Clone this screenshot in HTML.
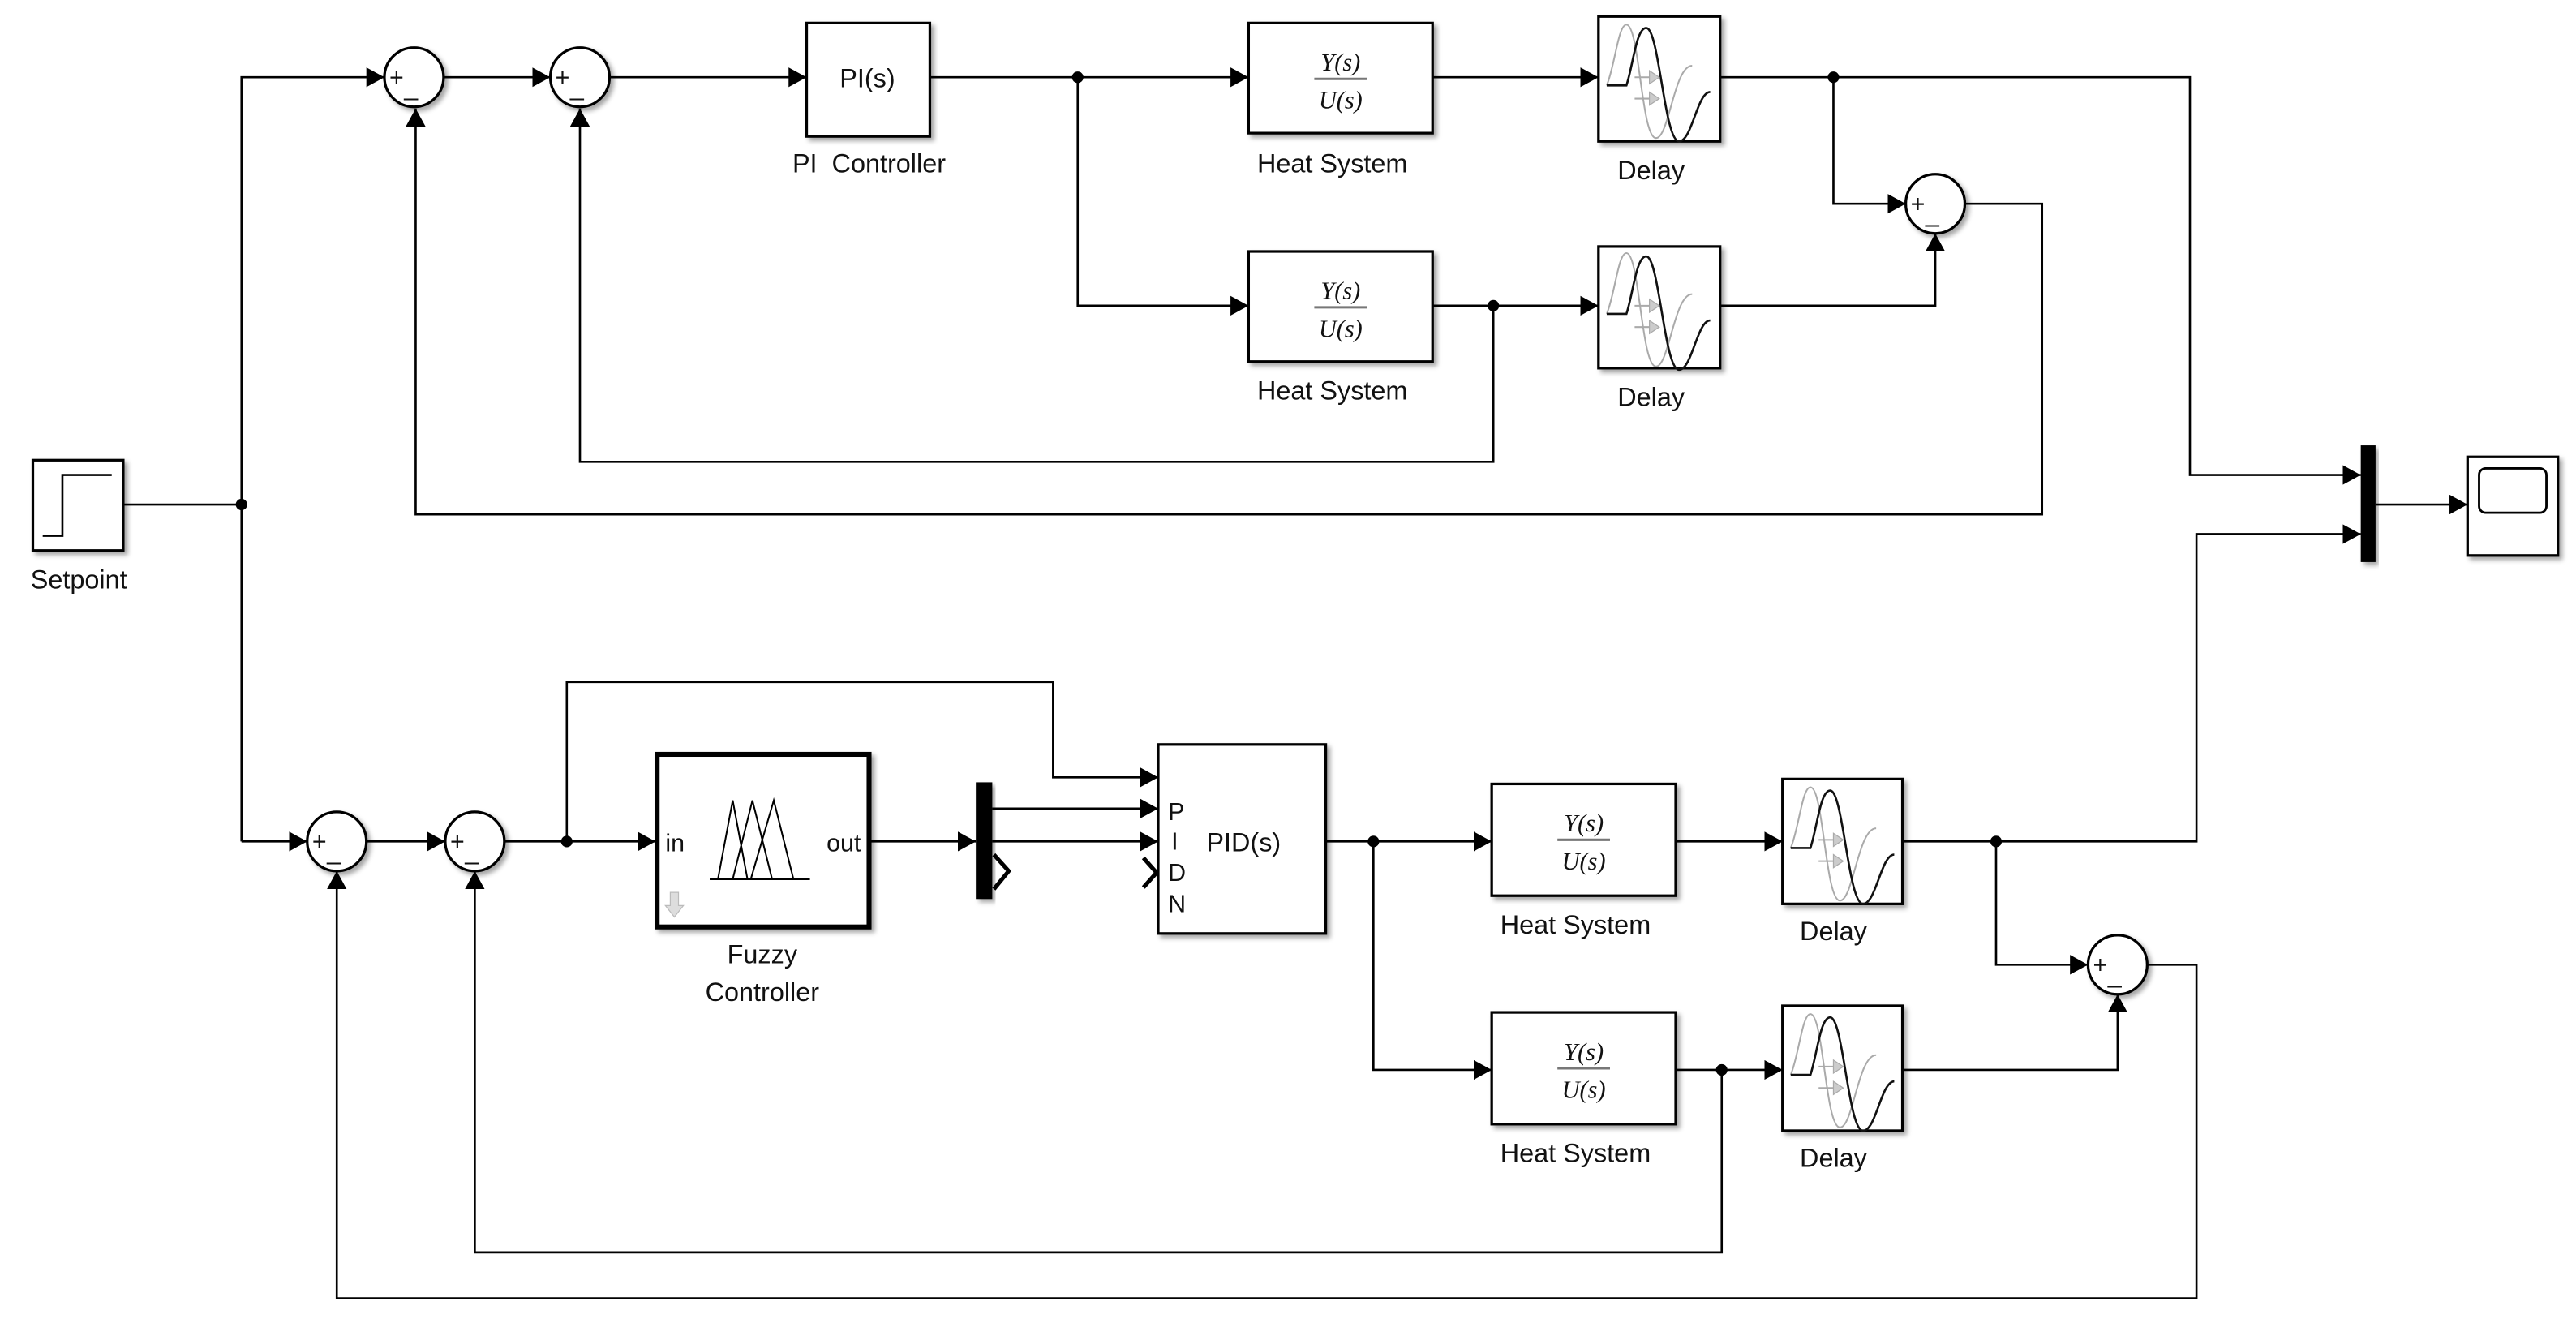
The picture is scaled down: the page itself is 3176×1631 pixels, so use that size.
<!DOCTYPE html>
<html><head><meta charset="utf-8"><style>
html,body{margin:0;padding:0;background:#fff;}
svg{display:block;}
text{font-family:"Liberation Sans",sans-serif;fill:#111;}
.ln{fill:none;stroke:#000;stroke-width:1.3;}
.blk{fill:#fff;stroke:#000;stroke-width:1.6;filter:url(#sh);}
.lbl{font-size:16px;text-anchor:middle;}
.tf{font-family:"Liberation Serif",serif;font-style:italic;font-size:15px;text-anchor:middle;}
.pm{font-size:15px;}
</style></head><body>
<svg width="3176" height="1631" viewBox="0 0 1568 805" preserveAspectRatio="none" xmlns="http://www.w3.org/2000/svg">
<defs>
<filter id="sh" x="-10%" y="-10%" width="130%" height="130%"><feDropShadow dx="2" dy="2" stdDeviation="1.5" flood-color="#000" flood-opacity="0.35"/></filter>
<marker id="a" markerUnits="userSpaceOnUse" markerWidth="11" markerHeight="12" refX="11" refY="6" orient="auto"><path d="M0,0 L11,6 L0,12 z" fill="#000"/></marker>
<g id="dly">
<path d="M5,42 C10,30 12,5 17,5 C25,5 26,74 35,74 C43,74 46,30 57,30" fill="none" stroke="#aaa" stroke-width="1"/>
<path d="M5,42 L17,42 C21,30 23,7 29,7 C37,7 40,76 49,76 C57,76 60,46 68,46" fill="none" stroke="#111" stroke-width="1.3"/>
<path d="M22,37 L34,37 M22,50 L34,50" stroke="#aaa" stroke-width="1"/>
<path d="M31,33 L37,37 L31,41z M31,46 L37,50 L31,54z" fill="#ccc" stroke="#aaa" stroke-width="0.6"/>
</g>
</defs>
<rect width="1568" height="805" fill="#fff"/>

<!-- Setpoint -->
<rect class="blk" x="20" y="280" width="55" height="55"/>
<path d="M26,326 L38,326 L38,289 L68,289" fill="none" stroke="#000" stroke-width="1.3"/>
<text class="lbl" x="48" y="358">Setpoint</text>

<!-- wires top -->
<path class="ln" d="M75,307 L147,307"/>
<circle cx="147" cy="307" r="3.5"/>
<path class="ln" d="M147,512 L147,47 L234,47" marker-end="url(#a)"/>
<path class="ln" d="M270,47 L335,47" marker-end="url(#a)"/>
<path class="ln" d="M371,47 L491,47" marker-end="url(#a)"/>
<path class="ln" d="M566,47 L760,47" marker-end="url(#a)"/>
<circle cx="656" cy="47" r="3.5"/>
<path class="ln" d="M656,47 L656,186 L760,186" marker-end="url(#a)"/>
<path class="ln" d="M872,47 L973,47" marker-end="url(#a)"/>
<path class="ln" d="M872,186 L973,186" marker-end="url(#a)"/>
<circle cx="909" cy="186" r="3.5"/>
<path class="ln" d="M909,186 L909,281 L353,281 L353,66" marker-end="url(#a)"/>
<path class="ln" d="M1047,47 L1333,47 L1333,289 L1437,289" marker-end="url(#a)"/>
<circle cx="1116" cy="47" r="3.5"/>
<path class="ln" d="M1116,47 L1116,124 L1160,124" marker-end="url(#a)"/>
<path class="ln" d="M1047,186 L1178,186 L1178,142" marker-end="url(#a)"/>
<path class="ln" d="M1196,124 L1243,124 L1243,313 L253,313 L253,66" marker-end="url(#a)"/>
<path class="ln" d="M1446,307 L1502,307" marker-end="url(#a)"/>
<path class="ln" d="M1215,512 L1337,512 L1337,325 L1437,325" marker-end="url(#a)"/>

<!-- sums top -->
<g><circle class="blk" cx="252" cy="47" r="18"/><text class="pm" x="237" y="52">+</text><text class="pm" x="246" y="58">_</text></g>
<g><circle class="blk" cx="353" cy="47" r="18"/><text class="pm" x="338" y="52">+</text><text class="pm" x="347" y="58">_</text></g>
<g><circle class="blk" cx="1178" cy="124" r="18"/><text class="pm" x="1163" y="129">+</text><text class="pm" x="1172" y="135">_</text></g>

<!-- PI -->
<rect class="blk" x="491" y="14" width="75" height="69"/>
<text x="528" y="53" font-size="16" text-anchor="middle">PI(s)</text>
<text class="lbl" x="529" y="105">PI&#160; Controller</text>

<!-- Heat systems top -->
<rect class="blk" x="760" y="14" width="112" height="67"/>
<text class="tf" x="816" y="43">Y(s)</text><path d="M800,48 L832,48" stroke="#777" stroke-width="1.5"/><text class="tf" x="816" y="66">U(s)</text>
<text class="lbl" x="811" y="105">Heat System</text>
<rect class="blk" x="760" y="153" width="112" height="67"/>
<text class="tf" x="816" y="182">Y(s)</text><path d="M800,187 L832,187" stroke="#777" stroke-width="1.5"/><text class="tf" x="816" y="205">U(s)</text>
<text class="lbl" x="811" y="243">Heat System</text>

<!-- Delays top -->
<rect class="blk" x="973" y="10" width="74" height="76"/><use href="#dly" x="973" y="10"/>
<text class="lbl" x="1005" y="109">Delay</text>
<rect class="blk" x="973" y="150" width="74" height="74"/><use href="#dly" x="973" y="149"/>
<text class="lbl" x="1005" y="247">Delay</text>

<!-- mux + scope -->
<rect x="1437" y="271" width="9" height="71" fill="#000" filter="url(#sh)"/>
<rect class="blk" x="1502" y="278" width="55" height="60"/>
<rect x="1509" y="285" width="41" height="27" rx="4" fill="none" stroke="#000" stroke-width="1.4"/>

<!-- wires bottom -->
<path class="ln" d="M147,512 L187,512" marker-end="url(#a)"/>
<path class="ln" d="M223,512 L271,512" marker-end="url(#a)"/>
<path class="ln" d="M307,512 L399,512" marker-end="url(#a)"/>
<circle cx="345" cy="512" r="3.5"/>
<path class="ln" d="M345,512 L345,415 L641,415 L641,473 L705,473" marker-end="url(#a)"/>
<path class="ln" d="M530,512 L594,512" marker-end="url(#a)"/>
<path class="ln" d="M604,492 L705,492" marker-end="url(#a)"/>
<path class="ln" d="M604,512 L705,512" marker-end="url(#a)"/>
<path d="M605,520 L614,530 L605,541" fill="none" stroke="#000" stroke-width="2.5"/>
<path d="M696,522 L704,531 L696,540" fill="none" stroke="#000" stroke-width="2.5"/>
<path class="ln" d="M807,512 L908,512" marker-end="url(#a)"/>
<circle cx="836" cy="512" r="3.5"/>
<path class="ln" d="M836,512 L836,651 L908,651" marker-end="url(#a)"/>
<path class="ln" d="M1020,512 L1085,512" marker-end="url(#a)"/>
<path class="ln" d="M1020,651 L1085,651" marker-end="url(#a)"/>
<circle cx="1048" cy="651" r="3.5"/>
<path class="ln" d="M1048,651 L1048,762 L289,762 L289,530" marker-end="url(#a)"/>
<path class="ln" d="M1158,512 L1215,512"/>
<circle cx="1215" cy="512" r="3.5"/>
<path class="ln" d="M1215,512 L1215,587 L1271,587" marker-end="url(#a)"/>
<path class="ln" d="M1158,651 L1289,651 L1289,605" marker-end="url(#a)"/>
<path class="ln" d="M1307,587 L1337,587 L1337,790 L205,790 L205,530" marker-end="url(#a)"/>

<!-- sums bottom -->
<g><circle class="blk" cx="205" cy="512" r="18"/><text class="pm" x="190" y="517">+</text><text class="pm" x="199" y="523">_</text></g>
<g><circle class="blk" cx="289" cy="512" r="18"/><text class="pm" x="274" y="517">+</text><text class="pm" x="283" y="523">_</text></g>
<g><circle class="blk" cx="1289" cy="587" r="18"/><text class="pm" x="1274" y="592">+</text><text class="pm" x="1283" y="598">_</text></g>

<!-- Fuzzy -->
<rect x="400" y="459" width="129" height="105" fill="#fff" stroke="#000" stroke-width="3" filter="url(#sh)"/>
<text x="405" y="518" font-size="15">in</text>
<text x="524" y="518" font-size="15" text-anchor="end">out</text>
<path d="M432,535 L493,535 M437,535 L446,487 L455,535 M446,535 L458,487 L470,535 M457,535 L471,487 L483,535" fill="none" stroke="#000" stroke-width="1"/>
<path d="M408,543 L413,543 L413,551 L416,551 L410.5,558 L405,551 L408,551z" fill="#ddd" stroke="#bbb" stroke-width="0.6"/>
<text class="lbl" x="464" y="586">Fuzzy</text>
<text class="lbl" x="464" y="609">Controller</text>

<!-- demux -->
<rect x="594" y="476" width="10" height="71" fill="#000" filter="url(#sh)"/>

<!-- PID -->
<rect class="blk" x="705" y="453" width="102" height="115"/>
<text x="711" y="499" font-size="15">P</text>
<text x="713" y="517" font-size="15">I</text>
<text x="711" y="536" font-size="15">D</text>
<text x="711" y="555" font-size="15">N</text>
<text x="757" y="518" font-size="16" text-anchor="middle">PID(s)</text>

<!-- Heat systems bottom -->
<rect class="blk" x="908" y="477" width="112" height="68"/>
<text class="tf" x="964" y="506">Y(s)</text><path d="M948,511 L980,511" stroke="#777" stroke-width="1.5"/><text class="tf" x="964" y="529">U(s)</text>
<text class="lbl" x="959" y="568">Heat System</text>
<rect class="blk" x="908" y="616" width="112" height="68"/>
<text class="tf" x="964" y="645">Y(s)</text><path d="M948,650 L980,650" stroke="#777" stroke-width="1.5"/><text class="tf" x="964" y="668">U(s)</text>
<text class="lbl" x="959" y="707">Heat System</text>

<!-- Delays bottom -->
<rect class="blk" x="1085" y="474" width="73" height="76"/><use href="#dly" x="1085" y="474"/>
<text class="lbl" x="1116" y="572">Delay</text>
<rect class="blk" x="1085" y="612" width="73" height="76"/><use href="#dly" x="1085" y="612"/>
<text class="lbl" x="1116" y="710">Delay</text>
</svg>
</body></html>
